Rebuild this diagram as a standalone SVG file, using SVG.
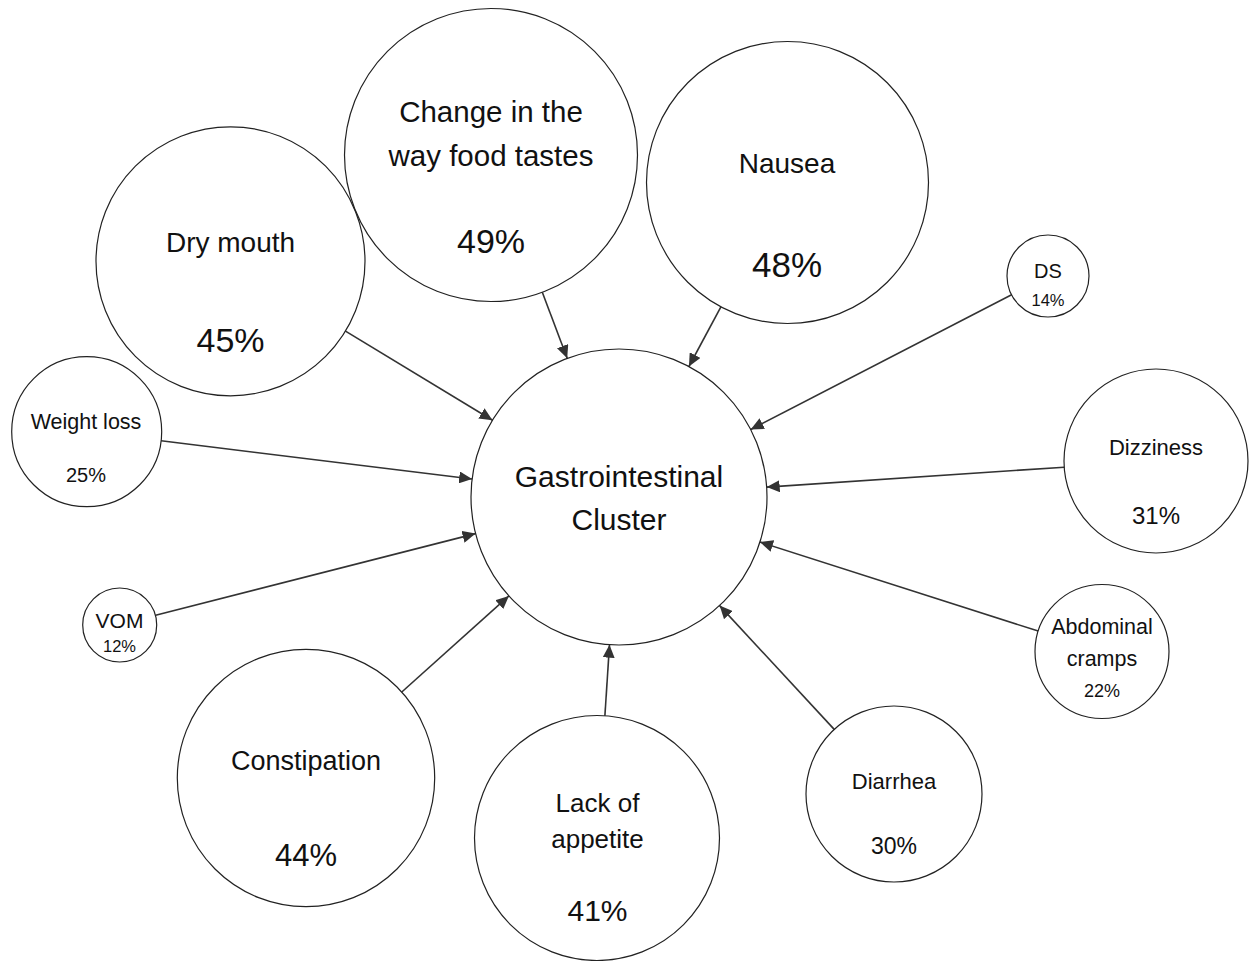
<svg xmlns="http://www.w3.org/2000/svg" width="1249" height="961" viewBox="0 0 1249 961">
  <style>
    .node circle { fill: none; stroke: #222; stroke-width: 1.2; }
    .node text { font-family: "Liberation Sans", Arial, sans-serif; fill: #111; text-anchor: middle; }
    .edges line { stroke: #333; stroke-width: 1.6; marker-end: url(#arrow); }
  </style>
  <defs>
    <marker id="arrow" markerUnits="userSpaceOnUse" markerWidth="14" markerHeight="12" refX="13" refY="6" orient="auto">
      <path d="M0,0 L13,6 L0,12 Z" fill="#333"/>
    </marker>
  </defs>
  <rect width="1249" height="961" fill="#fff"/>

  <!-- connectors: symptom -> cluster, center-to-center clipped at circle edges -->
  <g id="edges" class="edges">
    <line x1="542.3" y1="292.3" x2="567.2" y2="358.3"/>
    <line x1="720.9" y1="306.8" x2="688.9" y2="366.5"/>
    <line x1="345.5" y1="331.1" x2="492.5" y2="420.2"/>
    <line x1="1011.6" y1="294.8" x2="750.7" y2="429.5"/>
    <line x1="161.1" y1="440.8" x2="472.1" y2="479"/>
    <line x1="1064.2" y1="467.2" x2="766.7" y2="487.1"/>
    <line x1="155.6" y1="615.3" x2="475.6" y2="533.6"/>
    <line x1="1038.2" y1="631.1" x2="760" y2="542.1"/>
    <line x1="401.8" y1="692" x2="508.9" y2="595.9"/>
    <line x1="604.9" y1="715.7" x2="609.5" y2="644.7"/>
    <line x1="834.2" y1="729.4" x2="719.6" y2="605.6"/>
  </g>

  <g id="gastro" class="node">
    <circle cx="619" cy="497" r="148"/>
    <text x="619" y="487" font-size="30">Gastrointestinal</text>
    <text x="619" y="530" font-size="30">Cluster</text>
  </g>

  <g id="taste" class="node">
    <circle cx="491" cy="155" r="146.5"/>
    <text x="491" y="122" font-size="29.5">Change in the</text>
    <text x="491" y="166" font-size="29.5">way food tastes</text>
    <text x="491" y="253" font-size="34">49%</text>
  </g>

  <g id="nausea" class="node">
    <circle cx="787.5" cy="182.5" r="141"/>
    <text x="787" y="173" font-size="28">Nausea</text>
    <text x="787" y="277" font-size="35">48%</text>
  </g>

  <g id="dry-mouth" class="node">
    <circle cx="230.5" cy="261.3" r="134.5"/>
    <text x="230.5" y="252" font-size="28">Dry mouth</text>
    <text x="230.5" y="352" font-size="34">45%</text>
  </g>

  <g id="ds" class="node">
    <circle cx="1048" cy="276" r="41"/>
    <text x="1048" y="278" font-size="20">DS</text>
    <text x="1048" y="306" font-size="16.5">14%</text>
  </g>

  <g id="weight-loss" class="node">
    <circle cx="86.7" cy="431.7" r="75"/>
    <text x="86" y="429" font-size="21.5">Weight loss</text>
    <text x="86" y="482" font-size="20">25%</text>
  </g>

  <g id="dizziness" class="node">
    <circle cx="1156" cy="461" r="92"/>
    <text x="1156" y="455" font-size="22">Dizziness</text>
    <text x="1156" y="524" font-size="24">31%</text>
  </g>

  <g id="vom" class="node">
    <circle cx="119.7" cy="625" r="37"/>
    <text x="119.5" y="628" font-size="21">VOM</text>
    <text x="119.5" y="652" font-size="16.5">12%</text>
  </g>

  <g id="abdominal-cramps" class="node">
    <circle cx="1102" cy="651.5" r="67"/>
    <text x="1102" y="634" font-size="21.5">Abdominal</text>
    <text x="1102" y="666" font-size="21.5">cramps</text>
    <text x="1102" y="697" font-size="18">22%</text>
  </g>

  <g id="constipation" class="node">
    <circle cx="306" cy="778" r="128.7"/>
    <text x="306" y="770" font-size="27">Constipation</text>
    <text x="306" y="866" font-size="31">44%</text>
  </g>

  <g id="appetite" class="node">
    <circle cx="597" cy="838" r="122.5"/>
    <text x="597.5" y="812" font-size="26">Lack of</text>
    <text x="597.5" y="848" font-size="26">appetite</text>
    <text x="597.5" y="921" font-size="30">41%</text>
  </g>

  <g id="diarrhea" class="node">
    <circle cx="894" cy="794" r="88"/>
    <text x="894" y="789" font-size="22">Diarrhea</text>
    <text x="894" y="854" font-size="23">30%</text>
  </g>
</svg>
